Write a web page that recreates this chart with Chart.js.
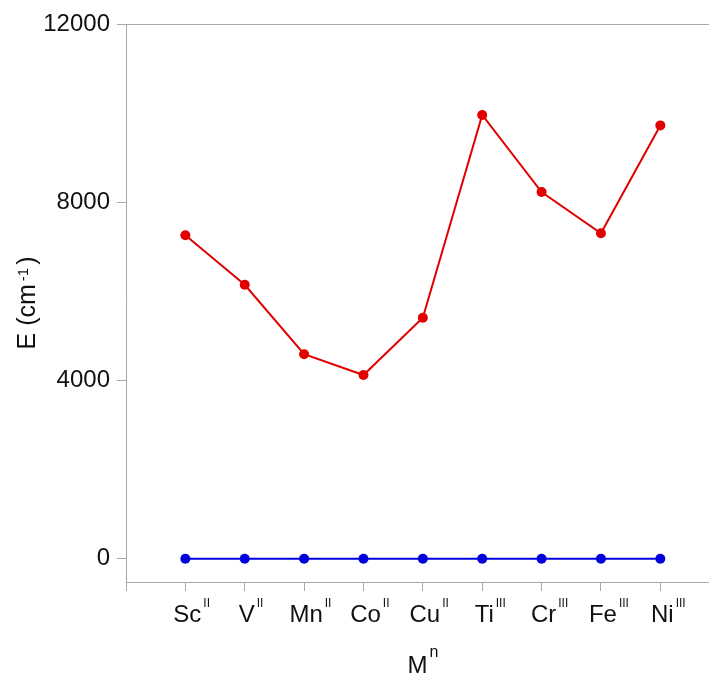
<!DOCTYPE html>
<html>
<head>
<meta charset="utf-8">
<script src="https://cdn.jsdelivr.net/npm/chart.js@4/dist/chart.umd.min.js"></script>
<style>
  html, body { margin: 0; padding: 0; background: #ffffff; }
  #wrap { width: 709px; height: 675px; }
</style>
</head>
<body>
<div id="wrap"><canvas id="c" width="709" height="675"></canvas></div>
<script>
// Metal ions: element symbol and oxidation state (drawn as superscript)
const elements = ['Sc', 'V', 'Mn', 'Co', 'Cu', 'Ti', 'Cr', 'Fe', 'Ni'];
const oxidation = ['II', 'II', 'II', 'II', 'II', 'III', 'III', 'III', 'III'];

// Energies in cm^-1
const upperEnergy = [7260, 6150, 4590, 4125, 5410, 9960, 8230, 7305, 9725];
const groundEnergy = [0, 0, 0, 0, 0, 0, 0, 0, 0];

const yTicks = [0, 4000, 8000, 12000];

const FONT = '"Liberation Sans", Arial, Helvetica, sans-serif';
const AXIS = '#a9a9a9';
const TEXT = '#111111';

function toPoints(values) {
  return values.map((v, i) => ({ x: i, y: v }));
}

// Draws the superscripted category labels, axis titles and the top frame line
const decorations = {
  id: 'decorations',
  afterDraw(chart) {
    const { ctx, chartArea, scales } = chart;
    const xs = scales.x;
    ctx.save();

    // top frame line
    ctx.strokeStyle = AXIS;
    ctx.lineWidth = 1;
    ctx.beginPath();
    ctx.moveTo(chartArea.left, Math.round(chartArea.top) + 0.5);
    ctx.lineTo(chartArea.right, Math.round(chartArea.top) + 0.5);
    ctx.stroke();

    ctx.fillStyle = TEXT;
    ctx.textBaseline = 'alphabetic';
    ctx.textAlign = 'left';

    // category labels with oxidation-state superscripts
    const baseY = chartArea.bottom + 40;
    elements.forEach((el, i) => {
      const px = xs.getPixelForValue(i);
      ctx.font = '24px ' + FONT;
      const w = ctx.measureText(el).width;
      const x0 = px - w / 2 + 2;
      ctx.fillText(el, x0, baseY);
      ctx.font = '12px ' + FONT;
      ctx.fillText(oxidation[i], x0 + w + 2, baseY - 15.5);
    });

    // x-axis title: M^n
    ctx.font = '24px ' + FONT;
    const mW = ctx.measureText('M').width;
    const cx = (chartArea.left + chartArea.right) / 2;
    ctx.fillText('M', cx - mW / 2, 673);
    ctx.font = '16px ' + FONT;
    ctx.fillText('n', cx + mW / 2 + 2, 656.5);

    // y-axis title: E (cm^-1)
    const cy = (chartArea.top + chartArea.bottom) / 2;
    ctx.translate(35, cy);
    ctx.rotate(-Math.PI / 2);
    ctx.font = '25px ' + FONT;
    const mainTxt = 'E (cm';
    const w1 = ctx.measureText(mainTxt).width;
    ctx.font = '15px ' + FONT;
    const w2 = ctx.measureText('-1').width;
    ctx.font = '25px ' + FONT;
    const w3 = ctx.measureText(')').width;
    const gap = 3;
    const total = w1 + gap + w2 + gap + w3;
    let tx = -total / 2;
    ctx.fillText(mainTxt, tx, 0);
    tx += w1 + gap;
    ctx.font = '15px ' + FONT;
    ctx.fillText('-1', tx, -7);
    tx += w2 + gap;
    ctx.font = '25px ' + FONT;
    ctx.fillText(')', tx, 0);

    ctx.restore();
  }
};

new Chart(document.getElementById('c'), {
  type: 'line',
  data: {
    datasets: [
      {
        data: toPoints(upperEnergy),
        borderColor: '#e00000',
        backgroundColor: '#e00000',
        borderWidth: 2,
        pointRadius: 5,
        pointHoverRadius: 5,
        pointBorderWidth: 0,
        tension: 0
      },
      {
        data: toPoints(groundEnergy),
        borderColor: '#0000dc',
        backgroundColor: '#0000dc',
        borderWidth: 2,
        pointRadius: 5,
        pointHoverRadius: 5,
        pointBorderWidth: 0,
        tension: 0
      }
    ]
  },
  options: {
    responsive: false,
    animation: false,
    events: [],
    layout: { autoPadding: false, padding: { top: 24, right: 0, bottom: 0, left: 0 } },
    plugins: {
      legend: { display: false },
      tooltip: { enabled: false },
      title: { display: false }
    },
    scales: {
      x: {
        type: 'linear',
        min: -1,
        max: 8.82,
        afterBuildTicks(scale) {
          scale.ticks = [-1, 0, 1, 2, 3, 4, 5, 6, 7, 8].map(v => ({ value: v }));
        },
        afterFit(scale) { scale.height = 93; },
        ticks: { display: false },
        grid: {
          drawOnChartArea: false,
          drawTicks: true,
          tickLength: 9,
          color: AXIS,
          lineWidth: 1
        },
        border: { display: true, color: AXIS, width: 1 }
      },
      y: {
        type: 'linear',
        min: -520,
        max: 12000,
        afterBuildTicks(scale) {
          scale.ticks = yTicks.map(v => ({ value: v }));
        },
        afterFit(scale) { scale.width = 126; },
        ticks: {
          color: TEXT,
          padding: 7,
          font: { family: FONT, size: 24 },
          callback: (v) => String(v)
        },
        grid: {
          drawOnChartArea: false,
          drawTicks: true,
          tickLength: 9,
          color: AXIS,
          lineWidth: 1
        },
        border: { display: true, color: AXIS, width: 1 }
      }
    }
  },
  plugins: [decorations]
});
</script>
</body>
</html>
